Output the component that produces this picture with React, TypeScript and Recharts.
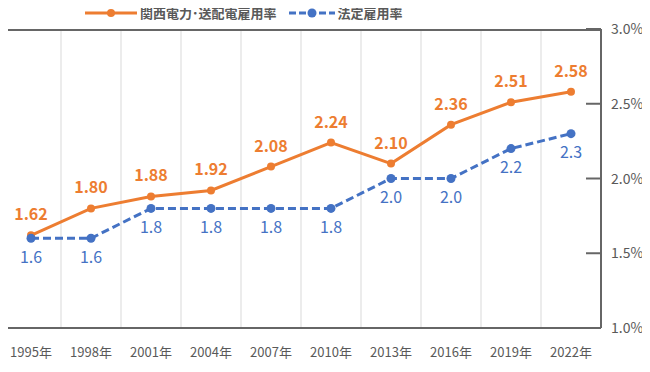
import React from 'react';
import {
  LineChart,
  Line,
  XAxis,
  YAxis,
  CartesianGrid,
  LabelList,
} from 'recharts';

const years = ['1995年', '1998年', '2001年', '2004年', '2007年', '2010年', '2013年', '2016年', '2019年', '2022年'];
const kansaiRate = [1.62, 1.8, 1.88, 1.92, 2.08, 2.24, 2.1, 2.36, 2.51, 2.58];
const legalRate = [1.6, 1.6, 1.8, 1.8, 1.8, 1.8, 2.0, 2.0, 2.2, 2.3];
const yTicks = [1.0, 1.5, 2.0, 2.5, 3.0];

const ORANGE = '#ED7D31';
const BLUE = '#4472C4';
const TEXT = '#595959';
const BORDER = '#666';
const FONT = '"Noto Sans CJK JP", "Noto Sans", sans-serif';

const data = years.map((year, i) => ({
  year,
  kansai: kansaiRate[i],
  legal: legalRate[i],
}));

// right axis: tick marks point into the plot, labels sit outside
const RightTick = (props: any) => {
  const { x, y, payload } = props;
  const axisX = x - 10;
  return (
    <g>
      <line x1={axisX - 15} x2={axisX} y1={y} y2={y} stroke={BORDER} strokeWidth={2} />
      <text x={x} y={y} dy={5} fill={TEXT} fontSize={14} fontFamily={FONT} textAnchor="start">
        {payload.value.toFixed(1) + '%'}
      </text>
    </g>
  );
};

const ChartLegend = () => (
  <div
    style={{
      position: 'absolute',
      top: 3,
      left: 85,
      display: 'flex',
      gap: 12,
      fontFamily: FONT,
      fontSize: 13,
      fontWeight: 700,
      color: TEXT,
    }}
  >
    <div style={{ display: 'flex', alignItems: 'center', gap: 3 }}>
      <svg width={52} height={10}>
        <line x1={0} x2={52} y1={5} y2={5} stroke={ORANGE} strokeWidth={3} />
        <circle cx={26} cy={5} r={4} fill={ORANGE} />
      </svg>
      <span>関西電力･送配電雇用率</span>
    </div>
    <div style={{ display: 'flex', alignItems: 'center', gap: 3 }}>
      <svg width={46} height={10}>
        <line x1={0} x2={46} y1={5} y2={5} stroke={BLUE} strokeWidth={3} strokeDasharray="7 3" />
        <circle cx={23} cy={5} r={4.5} fill={BLUE} />
      </svg>
      <span>法定雇用率</span>
    </div>
  </div>
);

export default function App() {
  return (
    <div style={{ margin: -8, width: 650, height: 372, background: '#fff', position: 'relative' }}>
      <ChartLegend />
      <LineChart width={650} height={372} data={data} margin={{ top: 29, right: 9, bottom: 0, left: 1 }}>
        <CartesianGrid
          horizontal={false}
          stroke="#e6e6e6"
          strokeWidth={1.5}
          verticalCoordinatesGenerator={({ offset }: any) =>
            years.slice(1).map((_, i) => offset.left + ((i + 1) * offset.width) / years.length)
          }
        />
        {/* plot frame */}
        <CartesianGrid
          stroke={BORDER}
          strokeWidth={2}
          horizontalCoordinatesGenerator={({ offset }: any) => [offset.top + 1, offset.top + offset.height]}
          verticalCoordinatesGenerator={({ offset }: any) => [offset.left + 1, offset.left + offset.width]}
        />
        <XAxis
          dataKey="year"
          padding={{ left: 30, right: 30 }}
          axisLine={false}
          tickLine={false}
          height={44}
          tickMargin={14}
          tick={{ fill: TEXT, fontSize: 13, fontFamily: FONT }}
          interval={0}
        />
        <YAxis
          orientation="right"
          domain={[1, 3]}
          ticks={yTicks}
          width={40}
          axisLine={false}
          tickLine={false}
          tickSize={0}
          tickMargin={10}
          tick={<RightTick />}
        />
        <Line
          dataKey="kansai"
          name="関西電力･送配電雇用率"
          stroke={ORANGE}
          strokeWidth={3}
          dot={{ r: 4, fill: ORANGE, stroke: ORANGE, strokeWidth: 0 }}
          isAnimationActive={false}
        >
          <LabelList
            dataKey="kansai"
            position="top"
            offset={15}
            formatter={(v: any) => Number(v).toFixed(2)}
            style={{ fill: ORANGE, fontSize: 16, fontWeight: 700, fontFamily: FONT }}
          />
        </Line>
        <Line
          dataKey="legal"
          name="法定雇用率"
          stroke={BLUE}
          strokeWidth={3}
          strokeDasharray="8 4"
          dot={{ r: 4.5, fill: BLUE, stroke: BLUE, strokeWidth: 0, strokeDasharray: '' }}
          isAnimationActive={false}
        >
          <LabelList
            dataKey="legal"
            position="bottom"
            offset={13}
            formatter={(v: any) => Number(v).toFixed(1)}
            style={{ fill: BLUE, fontSize: 16, fontFamily: FONT }}
          />
        </Line>
      </LineChart>
    </div>
  );
}
